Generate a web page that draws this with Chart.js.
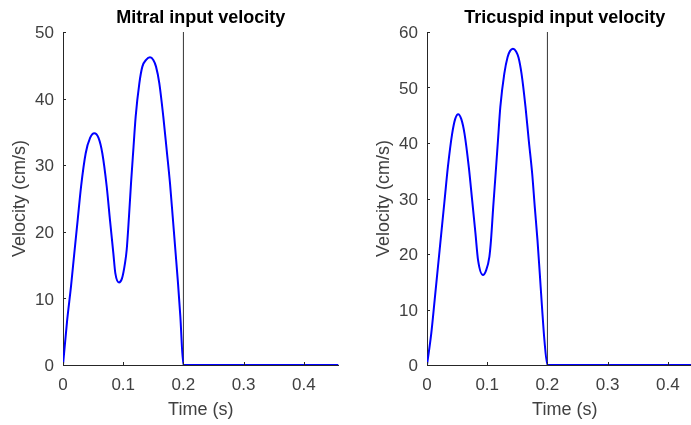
<!DOCTYPE html>
<html><head><meta charset="utf-8">
<script src="https://cdn.jsdelivr.net/npm/chart.js@4/dist/chart.umd.min.js"></script>
<style>
html,body{margin:0;padding:0;background:#fff;overflow:hidden;width:691px;height:425px;}
#wrap{position:relative;width:691px;height:425px;overflow:hidden;}
canvas{position:absolute;top:0;}
#c1{left:0}
#c2{left:364px}
</style></head><body>
<div id="wrap"><canvas id="c1" width="345" height="425"></canvas><canvas id="c2" width="345" height="425"></canvas></div>
<script>
// ---- data ----
const mitralTime = [0, 0.007, 0.0133, 0.0188, 0.0244, 0.030, 0.0377, 0.045, 0.052, 0.059, 0.0653, 0.0726, 0.078, 0.0836, 0.0869, 0.093, 0.098, 0.103, 0.1058, 0.1096, 0.113, 0.1168, 0.1207, 0.1268, 0.1318, 0.138, 0.1445, 0.150, 0.1545, 0.160, 0.1666, 0.1722, 0.1777, 0.1822, 0.1866, 0.191, 0.1949, 0.2, 0.4576];
const mitralVelocity = [0, 6.8, 11.8, 16.8, 21.8, 26.8, 31.8, 34.1, 34.8, 34.1, 31.8, 26.8, 21.8, 16.8, 13.8, 12.4, 13.0, 15.3, 17.3, 22.3, 27.3, 32.3, 37.3, 42.3, 44.8, 45.8, 46.2, 45.8, 44.8, 42.3, 37.3, 32.3, 27.3, 22.3, 17.3, 12.3, 7.3, 0, 0];
const tricuspidTime = [0, 0.0071, 0.0127, 0.0182, 0.0237, 0.0292, 0.0347, 0.0418, 0.047, 0.0518, 0.057, 0.0623, 0.0694, 0.075, 0.0805, 0.0848, 0.093, 0.098, 0.1036, 0.1063, 0.110, 0.114, 0.1179, 0.1218, 0.1284, 0.1339, 0.138, 0.1427, 0.148, 0.152, 0.157, 0.1636, 0.169, 0.1747, 0.179, 0.1835, 0.1873, 0.191, 0.195, 0.2, 0.4576];
const tricuspidVelocity = [0, 5.7, 11.7, 17.7, 23.7, 29.7, 35.7, 41.7, 44.4, 45.2, 44.3, 41.7, 35.7, 29.7, 23.7, 18.9, 16.2, 17.0, 19.5, 22.5, 28.5, 34.5, 40.5, 46.5, 52.5, 55.5, 56.6, 57.0, 56.5, 55.4, 52.5, 46.5, 40.5, 34.5, 28.5, 22.5, 16.5, 10.5, 4.5, 0, 0];
const xTicks = [0, 0.1, 0.2, 0.3, 0.4];
const mitralYTicks = [0, 10, 20, 30, 40, 50];
const tricuspidYTicks = [0, 10, 20, 30, 40, 50, 60];
const xMax = 0.4576;
const markerTime = 0.2;
const titles = ['Mitral input velocity', 'Tricuspid input velocity'];
const xLabel = 'Time (s)';
const yLabel = 'Velocity (cm/s)';

const FONT = "'Liberation Sans', Arial, Helvetica, sans-serif";
const AXIS = '#262626';
const TXT = '#404040';

const inwardTicks = {
  id: 'inwardTicks',
  afterDraw(chart) {
    const {ctx, chartArea: a, scales: {x, y}} = chart;
    ctx.save();
    ctx.strokeStyle = AXIS; ctx.lineWidth = 1;
    ctx.beginPath();
    x.ticks.forEach(t => { const px = Math.round(x.getPixelForValue(t.value)) + 0.5; ctx.moveTo(px, a.bottom); ctx.lineTo(px, a.bottom - 3); });
    y.ticks.forEach(t => { const py = Math.round(y.getPixelForValue(t.value)) + 0.5; ctx.moveTo(a.left, py); ctx.lineTo(a.left + 3, py); });
    ctx.stroke();
    ctx.restore();
  }
};

function makeChart(id, title, times, vels, yTicks) {
  const yMax = yTicks[yTicks.length - 1];
  return new Chart(document.getElementById(id), {
    type: 'line',
    data: {
      datasets: [
        {
          data: times.map((t, i) => ({x: t, y: vels[i]})),
          borderColor: '#0000ff', borderWidth: 2, pointRadius: 0,
          cubicInterpolationMode: 'monotone', fill: false
        },
        {
          data: [{x: markerTime, y: 0}, {x: markerTime, y: yMax}],
          borderColor: '#333333', borderWidth: 1, pointRadius: 0, tension: 0, fill: false
        }
      ]
    },
    options: {
      responsive: false, animation: false, devicePixelRatio: 1,
      layout: {padding: {left: 0, right: 6.5, top: 0, bottom: 0}},
      plugins: {
        legend: {display: false}, tooltip: {enabled: false},
        title: {display: true, text: title, fullSize: false, color: '#000',
          font: {family: FONT, size: 18, weight: 'bold'}, padding: {top: 7.5, bottom: 2.9}}
      },
      scales: {
        x: {
          type: 'linear', min: 0, max: xMax,
          afterBuildTicks: s => { s.ticks = xTicks.map(v => ({value: v})); },
          afterFit: s => { s.height = 60; },
          ticks: {padding: 10, color: TXT, font: {family: FONT, size: 17}, maxRotation: 0, callback: v => String(v)},
          grid: {display: true, drawOnChartArea: false, drawTicks: false},
          border: {display: true, color: AXIS, width: 1},
          title: {display: true, text: xLabel, color: TXT, font: {family: FONT, size: 18}, padding: {top: 0, bottom: 3.7}}
        },
        y: {
          type: 'linear', min: 0, max: yMax,
          afterBuildTicks: s => { s.ticks = yTicks.map(v => ({value: v})); },
          afterFit: s => { s.width = 63; },
          ticks: {padding: 9, color: TXT, font: {family: FONT, size: 17}, labelOffset: 1.5, callback: v => String(v)},
          grid: {display: true, drawOnChartArea: false, drawTicks: false},
          border: {display: true, color: AXIS, width: 1},
          title: {display: true, text: yLabel, color: TXT, font: {family: FONT, size: 18}, padding: {top: 9, bottom: 0}}
        }
      }
    },
    plugins: [inwardTicks]
  });
}

makeChart('c1', titles[0], mitralTime, mitralVelocity, mitralYTicks);
makeChart('c2', titles[1], tricuspidTime, tricuspidVelocity, tricuspidYTicks);
</script>
</body></html>
